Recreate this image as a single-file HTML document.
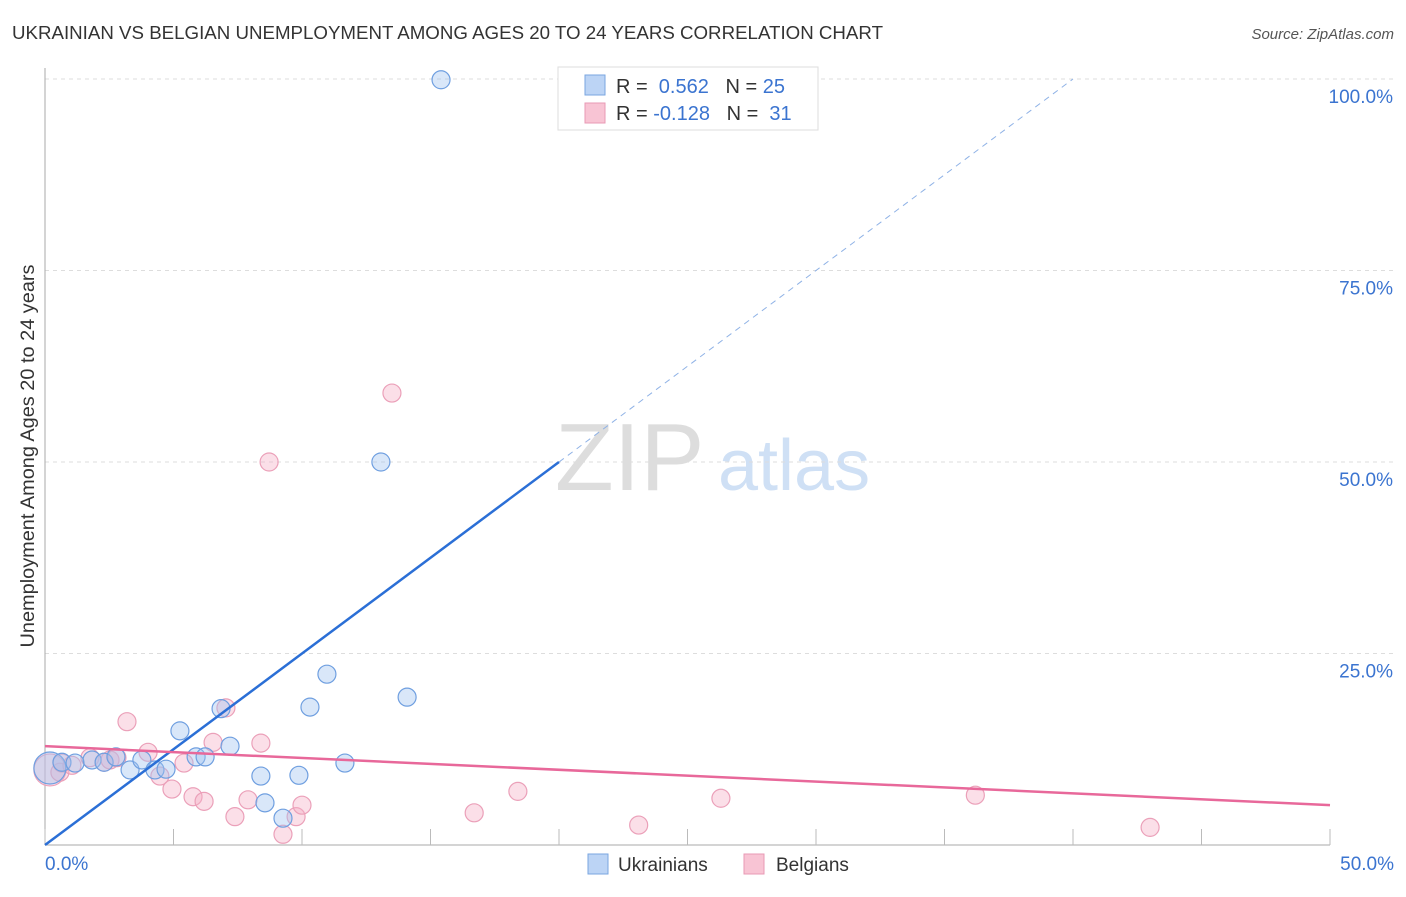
<!DOCTYPE html>
<html><head><meta charset="utf-8"><style>
body{margin:0;background:#fff;font-family:"Liberation Sans",sans-serif}
svg text{font-family:"Liberation Sans",sans-serif}
</style></head><body>
<svg id="c" width="1406" height="892">
<text x="12" y="39" font-size="18" fill="#333" textLength="871" lengthAdjust="spacingAndGlyphs">UKRAINIAN VS BELGIAN UNEMPLOYMENT AMONG AGES 20 TO 24 YEARS CORRELATION CHART</text>
<text x="1394" y="39" font-size="15" fill="#555" font-style="italic" text-anchor="end">Source: ZipAtlas.com</text>
<text x="34" y="456" font-size="19" fill="#333" text-anchor="middle" textLength="383" lengthAdjust="spacingAndGlyphs" transform="rotate(-90 34 456)">Unemployment Among Ages 20 to 24 years</text>
<g><text x="555" y="490" font-size="96" fill="#ddd" font-family="Liberation Serif,serif">ZIP</text><text x="718" y="490" font-size="72" fill="#cfe0f5">atlas</text></g>
<g id="grid"></g><g id="marks"></g>
<g>
<rect x="558" y="67" width="260" height="63" fill="#fff" stroke="#ddd"/>
<rect x="585" y="75" width="20" height="20" fill="#bcd4f5" stroke="#7aa6e0"/>
<rect x="585" y="103" width="20" height="20" fill="#f8c4d4" stroke="#e89ab5"/>
<text x="616" y="93" font-size="20" fill="#333">R = <tspan fill="#3b74d0">&#160;0.562</tspan>&#160;&#160;&#160;N = <tspan fill="#3b74d0">25</tspan></text>
<text x="616" y="120" font-size="20" fill="#333">R = <tspan fill="#3b74d0">-0.128</tspan>&#160;&#160;&#160;N = <tspan fill="#3b74d0">&#160;31</tspan></text>
</g>
<g>
<rect x="588" y="854" width="20" height="20" fill="#bcd4f5" stroke="#7aa6e0"/>
<text x="618" y="871" font-size="19" fill="#333">Ukrainians</text>
<rect x="744" y="854" width="20" height="20" fill="#f8c4d4" stroke="#e89ab5"/>
<text x="776" y="871" font-size="19" fill="#333">Belgians</text>
</g>
</svg>
<script>
const blueX=[0.19,0.66,1.17,1.83,2.30,2.76,3.31,3.77,4.28,4.71,5.25,5.88,6.23,6.85,7.20,8.40,8.56,9.26,9.88,10.31,10.97,11.67,13.07,14.09,15.41];
const blueY=[10.05,10.8,10.7,11.1,10.8,11.5,9.8,11.1,9.8,9.9,14.9,11.5,11.5,17.8,12.9,9.0,5.5,3.5,9.1,18.0,22.3,10.7,50.0,19.3,99.9];
const pinkX=[0.19,0.58,0.66,1.05,1.75,2.30,2.53,2.80,3.19,4.01,4.47,4.94,5.41,5.76,6.19,6.54,7.04,7.39,7.90,8.40,8.72,9.26,9.77,10.0,13.5,16.7,18.4,23.1,26.3,36.2,43.0];
const pinkY=[9.8,9.5,10.7,10.4,11.4,10.8,11.1,11.4,16.1,12.1,9.0,7.3,10.7,6.3,5.7,13.4,17.9,3.7,5.9,13.3,50.0,1.4,3.7,5.2,59.0,4.2,7.0,2.6,6.1,6.5,2.3];
const yTicks=[25,50,75,100];
const yTickLabels=["25.0%","50.0%","75.0%","100.0%"];
const xTicks=[0,5,10,15,20,25,30,35,40,45,50];
const blueLine=[0,2.5]; // intercept, slope
const pinkLine=[12.9,-0.154];
const NS="http://www.w3.org/2000/svg";
const X=v=>45+v/50*1285, Y=v=>845-v/100*766;
function mk(t,a,p){const e=document.createElementNS(NS,t);for(const k in a)e.setAttribute(k,a[k]);p.appendChild(e);return e;}
const g=document.getElementById('grid'),m=document.getElementById('marks');
yTicks.forEach((t,i)=>{
 const l=mk('line',{x1:45,x2:1394,y1:Y(t),y2:Y(t),stroke:'#ddd','stroke-dasharray':'4,4'},g);
 
 
 const tx=mk('text',{x:1393,y:Y(t)+24,'font-size':19,fill:'#3b74d0','text-anchor':'end'},g);tx.textContent=yTickLabels[i];
 
 
});
mk('line',{x1:45,x2:45,y1:68,y2:845,stroke:'#aaa'},g);
mk('line',{x1:45,x2:1330,y1:845,y2:845,stroke:'#aaa'},g);
xTicks.forEach(t=>{const l=mk('line',{x1:X(t),x2:X(t),y1:829,y2:845,stroke:'#bbb'},g);
 
 });
let t0=mk('text',{x:45,y:870,'font-size':19,fill:'#3b74d0'},g);t0.textContent="0.0%";


let t1=mk('text',{x:1394,y:870,'font-size':19,fill:'#3b74d0','text-anchor':'end'},g);t1.textContent="50.0%";


function pts(xs,ys,fill,stroke,name){xs.forEach((x,i)=>{const c=mk('circle',{cx:X(x),cy:Y(ys[i]),r:i==0?16:9,fill:fill,stroke:stroke,'stroke-width':1.2},m);
 
 });}
pts(pinkX,pinkY,'rgba(245,175,198,0.4)','#eba0b9','belgian-point');
pts(blueX,blueY,'rgba(160,195,240,0.4)','#6f9fe0','ukrainian-point');
let bl=mk('line',{x1:X(0),y1:Y(blueLine[0]),x2:X(20),y2:Y(blueLine[0]+20*blueLine[1]),stroke:'#2b6fd6','stroke-width':2.5},m);


const x100=(100-blueLine[0])/blueLine[1];
let bd=mk('line',{x1:X(20),y1:Y(blueLine[0]+20*blueLine[1]),x2:X(x100),y2:Y(100),stroke:'#8fb2e6','stroke-width':1,'stroke-dasharray':'6,5'},m);


let pl=mk('line',{x1:X(0),y1:Y(pinkLine[0]),x2:X(50),y2:Y(pinkLine[0]+50*pinkLine[1]),stroke:'#e8689a','stroke-width':2.5},m);


</script>
</body></html>
